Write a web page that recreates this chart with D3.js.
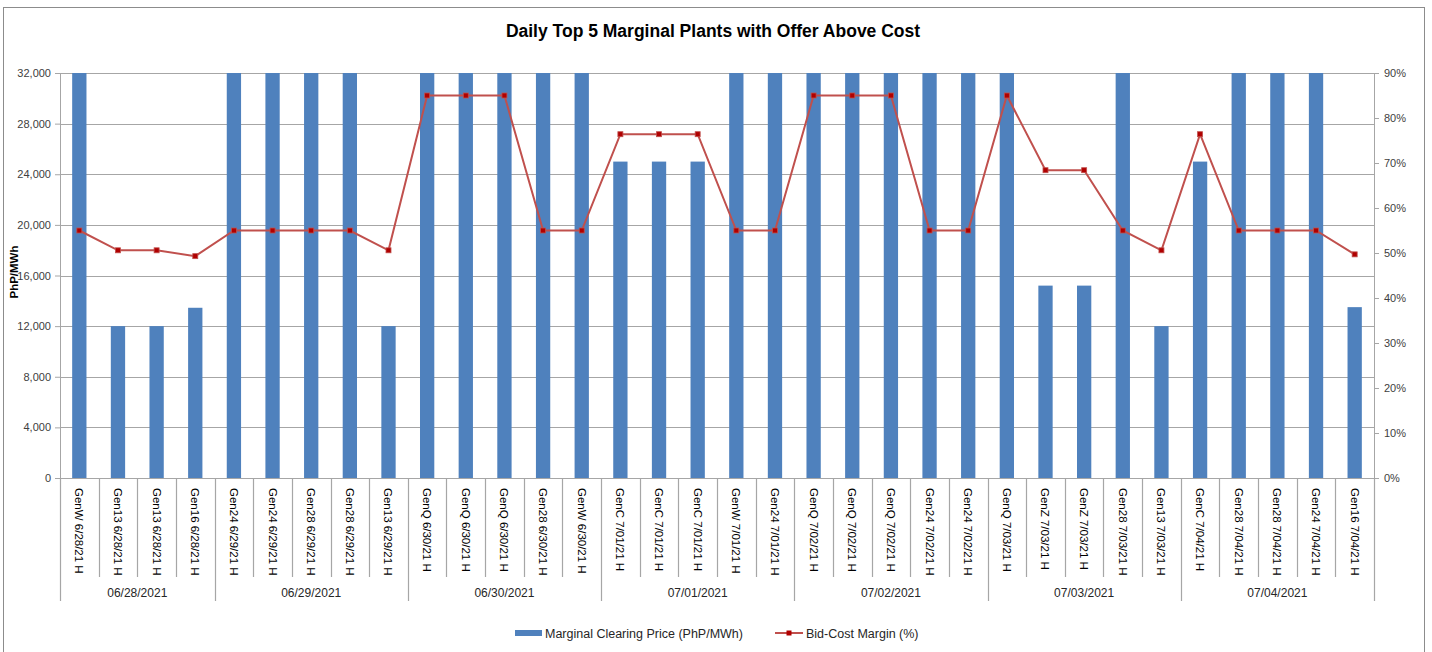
<!DOCTYPE html>
<html><head><meta charset="utf-8">
<script src="https://cdn.jsdelivr.net/npm/d3@7"></script>
<style>
body{margin:0;background:#fff;}
svg{display:block;font-family:"Liberation Sans",Arial,sans-serif;}
</style></head>
<body><svg id="c" width="1432" height="652"></svg>
<script>
const plants = ["GenW","Gen13","Gen13","Gen16","Gen24","Gen24","Gen28","Gen28","Gen13","GenQ","GenQ","GenQ","Gen28","GenW","GenC","GenC","GenC","GenW","Gen24","GenQ","GenQ","GenQ","Gen24","Gen24","GenQ","GenZ","GenZ","Gen28","Gen13","GenC","Gen28","Gen28","Gen24","Gen16"];
const shortDates = ["6/28/21","6/28/21","6/28/21","6/28/21","6/29/21","6/29/21","6/29/21","6/29/21","6/29/21","6/30/21","6/30/21","6/30/21","6/30/21","6/30/21","7/01/21","7/01/21","7/01/21","7/01/21","7/01/21","7/02/21","7/02/21","7/02/21","7/02/21","7/02/21","7/03/21","7/03/21","7/03/21","7/03/21","7/03/21","7/04/21","7/04/21","7/04/21","7/04/21","7/04/21"];
const groups = ["06/28/2021","06/29/2021","06/30/2021","07/01/2021","07/02/2021","07/03/2021","07/04/2021"];
const groupSizes = [4,5,5,5,5,5,5];
const price = [32000,12000,12000,13450,32000,32000,32000,32000,12000,32000,32000,32000,32000,32000,25000,25000,25000,32000,32000,32000,32000,32000,32000,32000,32000,15200,15200,32000,12000,25000,32000,32000,32000,13500];
const margin = [0.55,0.506,0.506,0.493,0.55,0.55,0.55,0.55,0.506,0.85,0.85,0.85,0.55,0.55,0.764,0.764,0.764,0.55,0.55,0.85,0.85,0.85,0.55,0.55,0.85,0.684,0.684,0.55,0.506,0.764,0.55,0.55,0.55,0.497];
const leftTicks = [0,4000,8000,12000,16000,20000,24000,28000,32000];
const rightTicks = [0,0.1,0.2,0.3,0.4,0.5,0.6,0.7,0.8,0.9];

const labels = plants.map((p,i)=>p+" "+shortDates[i]+" H");
const svg = d3.select("#c");
const L=60, R=1374, T=73, B=478;
const x = d3.scaleBand().domain(d3.range(labels.length)).range([L,R]).paddingInner(0.63).paddingOuter(0.315);
const xb = d3.scaleBand().domain(d3.range(labels.length)).range([L,R]);
const y = d3.scaleLinear().domain([0,32000]).range([B,T]);
const y2 = d3.scaleLinear().domain([0,0.9]).range([B,T]);

// border
svg.append("rect").attr("x",3.5).attr("y",7.5).attr("width",1421).attr("height",660).attr("fill","none").attr("stroke","#8c8c8c");

// title
svg.append("text").attr("x",713).attr("y",37).attr("text-anchor","middle").attr("font-weight","bold").attr("font-size",17.5).attr("fill","#000").text("Daily Top 5 Marginal Plants with Offer Above Cost");

// grid
svg.append("g").selectAll("line").data(leftTicks.slice(1)).join("line")
 .attr("x1",L).attr("x2",R).attr("y1",d=>Math.round(y(d))+0.5).attr("y2",d=>Math.round(y(d))+0.5)
 .attr("stroke","#a6a6a6").attr("stroke-width",1.2);

// left axis
const la = svg.append("g").attr("transform",`translate(${L},0)`)
 .call(d3.axisLeft(y).tickValues(leftTicks).tickSize(5).tickFormat(d3.format(",")));
la.select(".domain").attr("stroke","#a6a6a6");
la.selectAll(".tick line").attr("stroke","#a6a6a6");
la.selectAll("text").attr("font-size",11).attr("fill","#404040").attr("font-family","'Liberation Sans',Arial,sans-serif").attr("x",-9);

// right axis
const ra = svg.append("g").attr("transform",`translate(${R},0)`)
 .call(d3.axisRight(y2).tickValues(rightTicks).tickSize(5).tickFormat(d3.format(".0%")));
ra.select(".domain").attr("stroke","#a6a6a6");
ra.selectAll(".tick line").attr("stroke","#a6a6a6");
ra.selectAll("text").attr("font-size",11).attr("fill","#404040").attr("font-family","'Liberation Sans',Arial,sans-serif").attr("x",10);

// y title
svg.append("text").attr("transform","translate(18,272) rotate(-90)").attr("text-anchor","middle")
 .attr("font-size",11.5).attr("font-weight","bold").attr("fill","#000").text("PhP/MWh");

// bars
svg.append("g").selectAll("rect").data(price).join("rect")
 .attr("x",(d,i)=>x(i)).attr("width",x.bandwidth())
 .attr("y",d=>y(d)).attr("height",d=>B-y(d)).attr("fill","#4f81bd");

// baseline
svg.append("line").attr("x1",L).attr("x2",R).attr("y1",B+0.5).attr("y2",B+0.5).attr("stroke","#a6a6a6").attr("stroke-width",1.2);

// line
const cx = i=>xb(i)+xb.bandwidth()/2;
svg.append("path").datum(margin).attr("fill","none").attr("stroke","#c0504d").attr("stroke-width",2)
 .attr("d",d3.line().x((d,i)=>cx(i)).y(d=>y2(d)));
svg.append("g").selectAll("rect").data(margin).join("rect")
 .attr("x",(d,i)=>cx(i)-2.5).attr("y",d=>y2(d)-2.5).attr("width",5).attr("height",5)
 .attr("fill","#b00000").attr("stroke","#c0504d").attr("stroke-width",0.8);

// category labels and separators
const xg = svg.append("g");
labels.forEach((lab,i)=>{
  xg.append("text").attr("transform",`translate(${cx(i)},488) rotate(90)`)
   .attr("dy","0.35em").attr("font-size",11.5).attr("fill","#000").text(lab);
});
let starts=[0]; groupSizes.forEach((s,k)=>starts.push(starts[k]+s));
const groupStartSet = new Set(starts);
for(let i=0;i<=labels.length;i++){
  const xx = Math.round(i<labels.length? xb(i) : R)+0.5;
  const isG = groupStartSet.has(i);
  xg.append("line").attr("x1",xx).attr("x2",xx).attr("y1",B).attr("y2",isG?601:577)
   .attr("stroke","#a6a6a6").attr("stroke-width",1.2);
}
groups.forEach((g,k)=>{
  const a = xb(starts[k]), b = starts[k+1]<labels.length? xb(starts[k+1]) : R;
  xg.append("text").attr("x",(a+b)/2).attr("y",597).attr("text-anchor","middle")
   .attr("font-size",12).attr("fill","#262626").text(g);
});

// legend
const lg = svg.append("g");
lg.append("rect").attr("x",515).attr("y",630).attr("width",27).attr("height",6).attr("fill","#4f81bd");
lg.append("text").attr("x",545).attr("y",637.5).attr("font-size",12.5).attr("fill","#262626").text("Marginal Clearing Price (PhP/MWh)");
lg.append("line").attr("x1",775).attr("x2",803).attr("y1",633).attr("y2",633).attr("stroke","#c0504d").attr("stroke-width",2);
lg.append("rect").attr("x",786.5).attr("y",630.5).attr("width",5).attr("height",5).attr("fill","#b00000");
lg.append("text").attr("x",806).attr("y",637.5).attr("font-size",12.5).attr("fill","#262626").text("Bid-Cost Margin (%)");
</script></body></html>
